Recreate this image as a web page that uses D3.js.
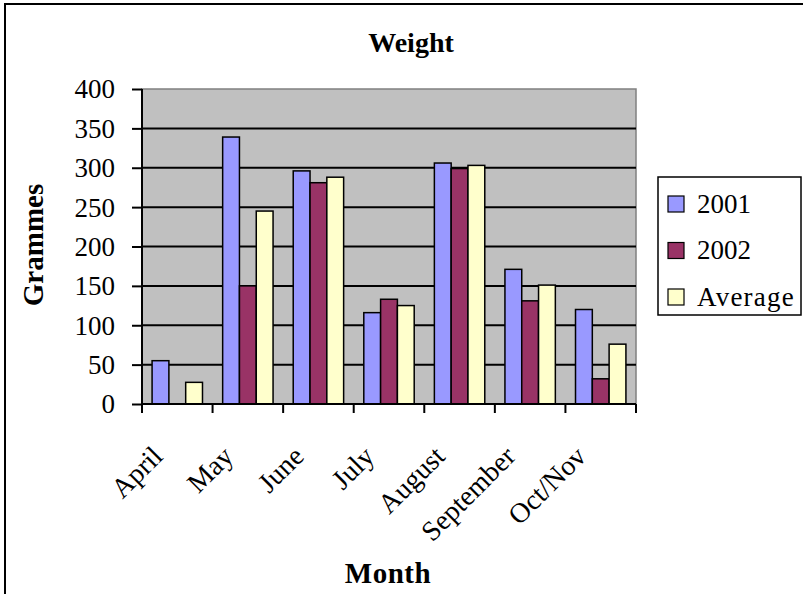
<!DOCTYPE html>
<html>
<head>
<meta charset="utf-8">
<script src="https://d3js.org/d3.v7.min.js"></script>
<style>
  body { margin: 0; background: #fff; }
  text { font-family: "Liberation Serif", "Times New Roman", serif; fill: #000; }
</style>
</head>
<body>
<script>
// values
var months = ["April", "May", "June", "July", "August", "September", "Oct/Nov"];
var y2001 = [55, 339, 296, 116, 306, 171, 120];
var y2002 = [0, 150, 281, 133, 299, 131, 32];
var yAvg = [27.5, 245, 288, 125, 303, 151, 76];
var seriesNames = ["2001", "2002", "Average"];
var seriesColors = ["#9999FF", "#993366", "#FFFFCC"];
var yTicks = [0, 50, 100, 150, 200, 250, 300, 350, 400];

var W = 803, H = 594;
var plotL = 142, plotR = 636, plotT = 89, plotB = 404;

var svg = d3.select("body").append("svg")
    .attr("width", W).attr("height", H);

// outer chart frame
svg.append("rect")
    .attr("x", 5).attr("y", 4)
    .attr("width", 900).attr("height", 700)
    .attr("fill", "#fff").attr("stroke", "#000").attr("stroke-width", 2);

var x = d3.scaleBand().domain(months).range([plotL, plotR]);
var y = d3.scaleLinear().domain([0, 400]).range([plotB, plotT]);

// plot area
svg.append("rect")
    .attr("x", plotL).attr("y", plotT)
    .attr("width", plotR - plotL).attr("height", plotB - plotT)
    .attr("fill", "#C0C0C0").attr("stroke", "#808080").attr("stroke-width", 1.5);

// gridlines
svg.append("g").selectAll("line")
    .data(yTicks.filter(function (d) { return d > 0 && d < 400; }))
    .enter().append("line")
    .attr("x1", plotL).attr("x2", plotR)
    .attr("y1", function (d) { return y(d); })
    .attr("y2", function (d) { return y(d); })
    .attr("stroke", "#000").attr("stroke-width", 2);

// bars
var rows = months.map(function (m, i) {
  return { month: m, vals: [y2001[i], y2002[i], yAvg[i]] };
});
var bw = x.bandwidth();
var pad = bw * 0.6 / 4.2;
var x1 = d3.scaleBand().domain([0, 1, 2]).range([pad, bw - pad]);

var groups = svg.append("g").selectAll("g")
    .data(rows).enter().append("g")
    .attr("transform", function (d) { return "translate(" + x(d.month) + ",0)"; });

groups.selectAll("rect")
    .data(function (d) { return d.vals.map(function (v, k) { return { k: k, v: v }; }); })
    .enter().append("rect")
    .filter(function (d) { return d.v > 0; })
    .attr("x", function (d) { return x1(d.k); })
    .attr("width", x1.bandwidth())
    .attr("y", function (d) { return y(d.v); })
    .attr("height", function (d) { return y(0) - y(d.v); })
    .attr("fill", function (d) { return seriesColors[d.k]; })
    .attr("stroke", "#000").attr("stroke-width", 1.5);

// y axis
var yAxis = d3.axisLeft(y).tickValues(yTicks).tickSize(10).tickPadding(17);
var gy = svg.append("g").attr("transform", "translate(" + plotL + ",0)").call(yAxis);
gy.selectAll("path,line").attr("stroke", "#000").attr("stroke-width", 2);
gy.select("path").attr("d", "M0," + plotT + "V" + plotB);
gy.selectAll("text").style("font-size", "27px")
    .style("font-family", "Liberation Serif").attr("dy", "0.33em");

// x axis
svg.append("line")
    .attr("x1", plotL).attr("x2", plotR)
    .attr("y1", plotB).attr("y2", plotB)
    .attr("stroke", "#000").attr("stroke-width", 2);
var bounds = months.map(function (m) { return x(m); }).concat([plotR]);
svg.append("g").selectAll("line").data(bounds).enter().append("line")
    .attr("x1", function (d) { return d; }).attr("x2", function (d) { return d; })
    .attr("y1", plotB).attr("y2", plotB + 9)
    .attr("stroke", "#000").attr("stroke-width", 2);

svg.append("g").selectAll("text").data(months).enter().append("text")
    .attr("transform", function (d) {
      return "translate(" + (x(d) + bw / 2 - 13) + "," + 458 + ") rotate(-45)";
    })
    .attr("text-anchor", "end")
    .style("font-size", "28px")
    .text(function (d) { return d; });

// titles
svg.append("text").attr("x", 411).attr("y", 52)
    .attr("text-anchor", "middle")
    .style("font-size", "28px").style("font-weight", "bold")
    .text("Weight");

svg.append("text").attr("x", 388).attr("y", 583)
    .attr("text-anchor", "middle")
    .style("font-size", "29px").style("font-weight", "bold")
    .style("letter-spacing", "0.5px")
    .text("Month");

svg.append("text")
    .attr("transform", "translate(43,245) rotate(-90)")
    .attr("text-anchor", "middle")
    .style("font-size", "29px").style("font-weight", "bold")
    .text("Grammes");

// legend
var lg = svg.append("g");
lg.append("rect")
    .attr("x", 658).attr("y", 177).attr("width", 143).attr("height", 138)
    .attr("fill", "#fff").attr("stroke", "#000").attr("stroke-width", 1.5);
var items = lg.selectAll("g.item").data(seriesNames).enter().append("g")
    .attr("transform", function (d, i) { return "translate(668," + (204 + i * 46.5) + ")"; });
items.append("rect")
    .attr("x", 0).attr("y", -8).attr("width", 16).attr("height", 16)
    .attr("fill", function (d, i) { return seriesColors[i]; })
    .attr("stroke", "#000").attr("stroke-width", 1.2);
items.append("text")
    .attr("x", 29).attr("y", 0).attr("dy", "0.33em")
    .style("font-size", "27px")
    .style("letter-spacing", function (d) { return d.length > 4 ? "1.2px" : "0px"; })
    .text(function (d) { return d; });
</script>
</body>
</html>
